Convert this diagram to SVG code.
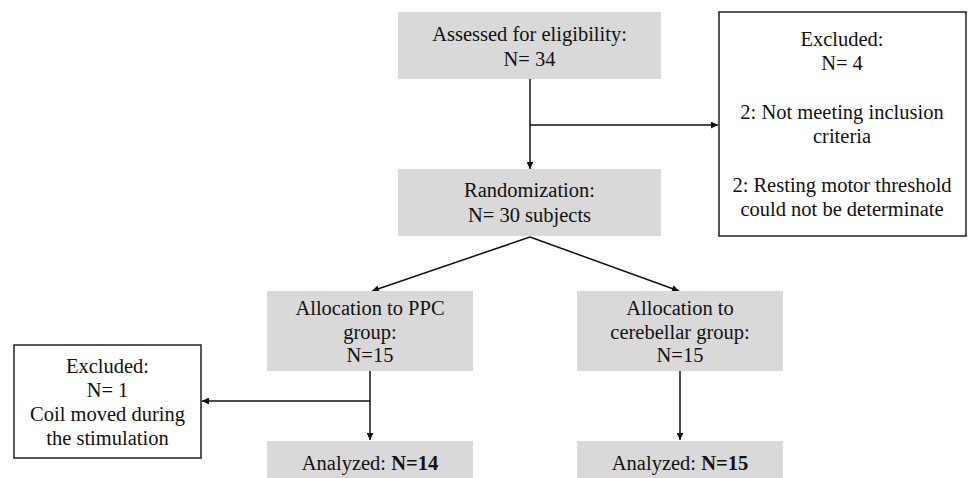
<svg xmlns="http://www.w3.org/2000/svg" width="970" height="478" viewBox="0 0 970 478">
<defs>
<style>
.g{fill:#d9d9d9;stroke:none}
.w{fill:#fff;stroke:#222;stroke-width:1.5}
text{font-family:"Liberation Serif","Times New Roman",serif;font-size:20.5px;fill:#111;text-anchor:middle}
.b{font-weight:bold}
.c{fill:none;stroke:#111;stroke-width:1.5}
</style>
<marker id="ah" viewBox="0 0 10 10" refX="10" refY="5" markerWidth="8" markerHeight="7" markerUnits="userSpaceOnUse" orient="auto">
<path d="M0,0 L10,5 L0,10 Z" fill="#111"/>
</marker>
</defs>
<rect width="970" height="478" fill="#fff"/>
<g id="connectors">
<line class="c" x1="530" y1="79" x2="530" y2="169" marker-end="url(#ah)"/>
<line class="c" x1="530" y1="125" x2="718" y2="125" marker-end="url(#ah)"/>
<line class="c" x1="530" y1="237" x2="372" y2="291" marker-end="url(#ah)"/>
<line class="c" x1="530" y1="237" x2="679" y2="291" marker-end="url(#ah)"/>
<line class="c" x1="370" y1="371" x2="370" y2="440" marker-end="url(#ah)"/>
<line class="c" x1="370" y1="401" x2="202" y2="401" marker-end="url(#ah)"/>
<line class="c" x1="680" y1="371" x2="680" y2="440" marker-end="url(#ah)"/>
</g>
<g id="assessed">
<rect class="g" x="398" y="12" width="263" height="67"/>
<text x="529.5" y="41">Assessed for eligibility:</text>
<text x="529.5" y="66">N= 34</text>
</g>
<g id="excluded-top">
<rect class="w" x="719" y="12" width="247" height="224"/>
<text x="842" y="46">Excluded:</text>
<text x="842" y="70">N= 4</text>
<text x="842" y="119">2: Not meeting inclusion</text>
<text x="842" y="143">criteria</text>
<text x="842" y="192">2: Resting motor threshold</text>
<text x="842" y="216">could not be determinate</text>
</g>
<g id="randomization">
<rect class="g" x="398" y="169" width="263" height="67"/>
<text x="529.5" y="197">Randomization:</text>
<text x="529.5" y="222">N= 30 subjects</text>
</g>
<g id="ppc">
<rect class="g" x="267" y="291" width="206" height="80"/>
<text x="370" y="315">Allocation to PPC</text>
<text x="370" y="339">group:</text>
<text x="370" y="362">N=15</text>
</g>
<g id="cerebellar">
<rect class="g" x="577" y="291" width="206" height="80"/>
<text x="680" y="315">Allocation to</text>
<text x="680" y="339">cerebellar group:</text>
<text x="680" y="362">N=15</text>
</g>
<g id="excluded-left">
<rect class="w" x="14" y="345" width="187" height="113"/>
<text x="107.5" y="373">Excluded:</text>
<text x="107.5" y="397">N= 1</text>
<text x="107.5" y="421">Coil moved during</text>
<text x="107.5" y="445">the stimulation</text>
</g>
<g id="analyzed-ppc">
<rect class="g" x="267" y="441" width="206" height="37"/>
<text x="370" y="470">Analyzed: <tspan class="b">N=14</tspan></text>
</g>
<g id="analyzed-cerebellar">
<rect class="g" x="577" y="441" width="206" height="37"/>
<text x="680" y="470">Analyzed: <tspan class="b">N=15</tspan></text>
</g>
</svg>
